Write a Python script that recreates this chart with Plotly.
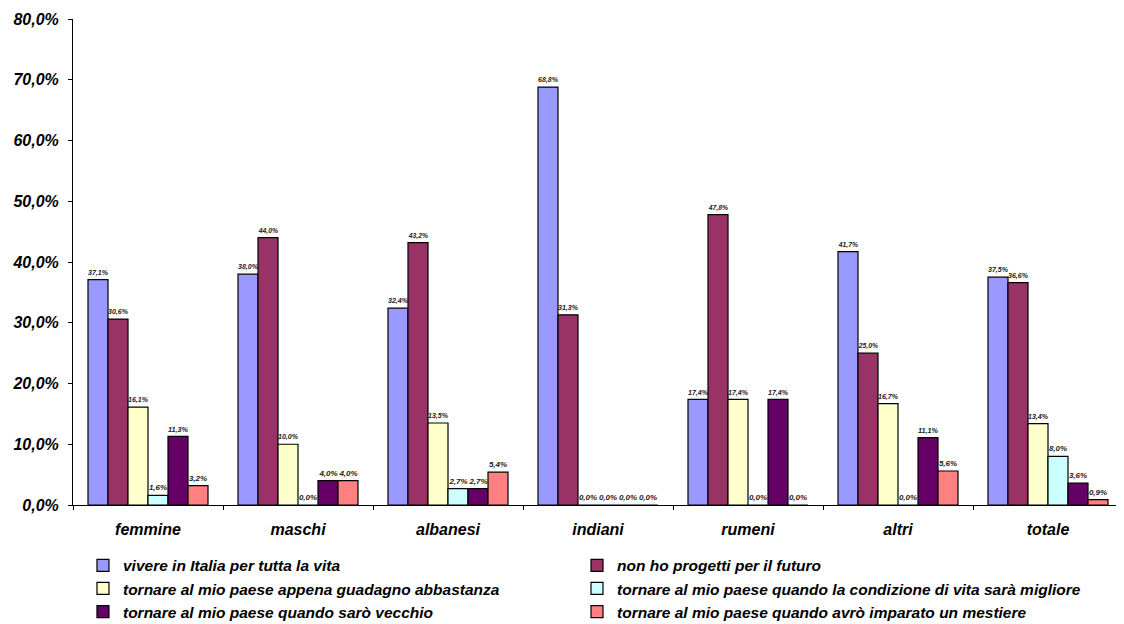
import plotly.graph_objects as go

categories = ["femmine", "maschi", "albanesi", "indiani", "rumeni", "altri", "totale"]
series_names = [
    "vivere in Italia per tutta la vita",
    "non ho progetti per il futuro",
    "tornare al mio paese appena guadagno abbastanza",
    "tornare al mio paese quando la condizione di vita sarà migliore",
    "tornare al mio paese quando sarò vecchio",
    "tornare al mio paese quando avrò imparato un mestiere",
]
vivere = [37.1, 38.0, 32.4, 68.8, 17.4, 41.7, 37.5]
non_ho = [30.6, 44.0, 43.2, 31.3, 47.8, 25.0, 36.6]
appena = [16.1, 10.0, 13.5, 0.0, 17.4, 16.7, 13.4]
condizione = [1.6, 0.0, 2.7, 0.0, 0.0, 0.0, 8.0]
vecchio = [11.3, 4.0, 2.7, 0.0, 17.4, 11.1, 3.6]
mestiere = [3.2, 4.0, 5.4, 0.0, 0.0, 5.6, 0.9]
series_values = [vivere, non_ho, appena, condizione, vecchio, mestiere]
colors = ["#9999FF", "#993366", "#FFFFCC", "#CCFFFF", "#660066", "#FF8080"]
y_ticks = [0, 10, 20, 30, 40, 50, 60, 70, 80]
y_ticktext = ["0,0%", "10,0%", "20,0%", "30,0%", "40,0%", "50,0%", "60,0%", "70,0%", "80,0%"]

FONT = "Liberation Sans, Arial, sans-serif"

fig = go.Figure()
for i, (name, vals, col) in enumerate(zip(series_names, series_values, colors)):
    fig.add_trace(go.Bar(
        x=categories, y=vals, name=name,
        legend="legend" if i % 2 == 0 else "legend2",
        marker=dict(color=col, line=dict(color="black", width=1.2)),
        texttemplate="%{y:.1f}%", textposition="outside",
        textfont=dict(family=FONT, size=8, color="#222222", weight="bold", style="italic"),
        cliponaxis=False,
    ))

legend_font = dict(family=FONT, size=15.5, weight="bold", style="italic")

fig.update_layout(
    width=1116, height=616,
    barmode="group", bargap=0.2, bargroupgap=0,
    separators=",.",
    paper_bgcolor="white", plot_bgcolor="white",
    margin=dict(l=65, r=1, t=11, b=119, autoexpand=False),
    font=dict(family=FONT, color="black"),
    showlegend=True,
    legend=dict(
        orientation="v", x=0.0095, xanchor="left", y=-0.09, yanchor="top",
        traceorder="normal", font=legend_font, itemwidth=30, tracegroupgap=0,
    ),
    legend2=dict(
        orientation="v", x=0.48, xanchor="left", y=-0.09, yanchor="top",
        traceorder="normal", font=legend_font, itemwidth=30, tracegroupgap=0,
    ),
    xaxis=dict(
        showline=True, linecolor="black", linewidth=1,
        ticks="outside", tickson="boundaries", ticklen=4, tickcolor="black",
        tickfont=dict(family=FONT, size=16, weight="bold", style="italic"),
        ticklabelstandoff=10,
        showgrid=False, automargin=False,
    ),
    yaxis=dict(
        range=[0, 80], tickvals=y_ticks, ticktext=y_ticktext,
        showline=True, linecolor="black", linewidth=1,
        ticks="outside", ticklen=4, tickcolor="black",
        tickfont=dict(family=FONT, size=16, weight="bold", style="italic"),
        ticklabelstandoff=6,
        showgrid=False, zeroline=False, automargin=False,
    ),
)

fig.write_html("out.html")
